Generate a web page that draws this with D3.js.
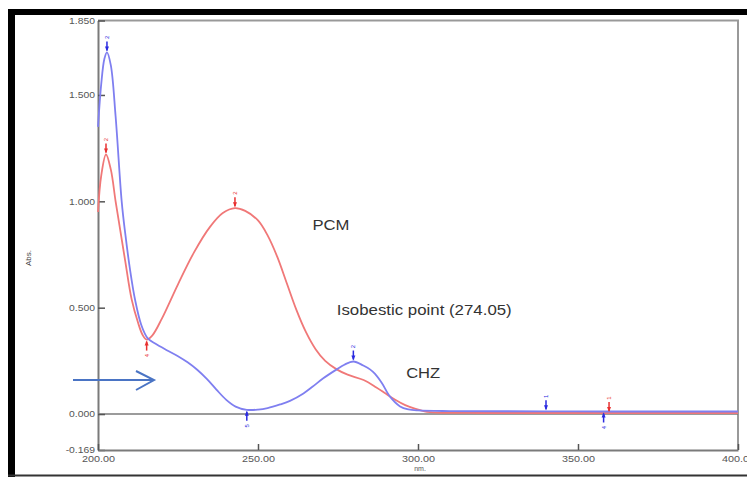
<!DOCTYPE html>
<html>
<head>
<meta charset="utf-8">
<script src="https://cdn.jsdelivr.net/npm/d3@7"></script>
<style>
  body { margin: 0; background: #fff; }
  svg { display: block; font-family: "Liberation Sans", Arial, sans-serif; }
</style>
</head>
<body>
<svg width="747" height="477"></svg>
<script>
// wavelength (nm) / absorbance
const chzWl  = [200, 201, 202, 202.8, 204, 205.5, 207.4, 208.5, 210, 211.6, 213.5, 215.5, 218, 221.5, 225, 228, 231, 234, 237, 240, 243, 246.5, 250, 253, 256.9, 260, 264.2, 267, 270.4, 274.6, 277, 279.8, 282.9, 285, 286.5, 288.7, 291.2, 294.4, 297, 300, 310, 340, 360, 400]
const chzAbs = [1.35, 1.55, 1.67, 1.70, 1.64, 1.40, 1.00, 0.85, 0.68, 0.536, 0.42, 0.357, 0.33, 0.30, 0.272, 0.243, 0.208, 0.165, 0.115, 0.068, 0.035, 0.02, 0.021, 0.028, 0.045, 0.062, 0.097, 0.128, 0.168, 0.21, 0.232, 0.247, 0.228, 0.21, 0.19, 0.146, 0.083, 0.036, 0.022, 0.017, 0.014, 0.013, 0.012, 0.012]

const pcmWl  = [200, 201, 202.5, 204, 205.5, 207, 208.5, 210.5, 212.5, 214, 215.2, 217, 220, 225, 230, 235, 239, 242.8, 246, 250, 253, 256, 259, 262, 265, 268, 271, 274.6, 278, 283, 287, 290, 293, 296, 299, 302, 306, 320, 360, 400]
const pcmAbs = [0.95, 1.12, 1.22, 1.15, 1.0, 0.86, 0.72, 0.54, 0.43, 0.37, 0.35, 0.37, 0.45, 0.61, 0.76, 0.88, 0.945, 0.968, 0.955, 0.91, 0.84, 0.74, 0.615, 0.49, 0.385, 0.305, 0.25, 0.21, 0.185, 0.16, 0.125, 0.095, 0.066, 0.042, 0.025, 0.013, 0.007, 0.005, 0.005, 0.005]

// peak pick markers: [wavelength, abs, direction, label]
const chzMarks = [[202.8, 1.70, "up", "2"], [246.5, 0.02, "down", "5"], [279.8, 0.247, "up", "2"], [340, 0.013, "up", "1"], [358, 0.012, "down", "4"]]
const pcmMarks = [[202.5, 1.22, "up", "2"], [215.2, 0.35, "down", "4"], [242.8, 0.968, "up", "2"], [359.7, 0.005, "up", "1"]]

const xTicks = [200, 250, 300, 350, 400]
const yTicks = [-0.169, 0, 0.5, 1.0, 1.5, 1.85]

// text, wavelength, abs, width on the page
const labels = [
  ["PCM", 267, 0.866, 37],
  ["Isobestic point (274.05)", 274.6, 0.467, 175],
  ["CHZ", 296.3, 0.171, 34]
]

const svg = d3.select("svg")

// scanned page frame
svg.append("rect").attr("x", 8).attr("y", 9).attr("width", 739).attr("height", 6).attr("fill", "#000")
svg.append("rect").attr("x", 8).attr("y", 9).attr("width", 7).attr("height", 468).attr("fill", "#000")
svg.append("line").attr("x1", 8).attr("x2", 747).attr("y1", 475.5).attr("y2", 475.5).attr("stroke", "#333").attr("stroke-width", 2)

const x = d3.scaleLinear().domain([200, 400]).range([98, 738])
const y = d3.scaleLinear().domain([-0.169, 1.85]).range([450, 20.5])

const grey = "#7a7a7a"

// the scan is a bit stretched sideways
function stretch(sel, k) {
  sel.each(function() {
    let w = this.getComputedTextLength()
    d3.select(this).attr("textLength", w * k).attr("lengthAdjust", "spacingAndGlyphs")
  })
}

// box
svg.append("path")
  .attr("d", `M${x(200)},${y(1.85)}H${x(400)}V${y(-0.169)}`)
  .attr("fill", "none").attr("stroke", "#999").attr("stroke-width", 2)

// zero line
svg.append("line")
  .attr("x1", x(200)).attr("x2", x(400)).attr("y1", y(0)).attr("y2", y(0))
  .attr("stroke", grey).attr("stroke-width", 1.5)

let yAxis = svg.append("g")
  .attr("transform", `translate(${x(200)},0)`)
  .call(d3.axisLeft(y).tickValues(yTicks).tickFormat(d => d.toFixed(3)).tickSizeInner(-7).tickSizeOuter(0).tickPadding(3))
yAxis.select(".domain").attr("stroke", grey).attr("stroke-width", 2)
yAxis.selectAll(".tick line").attr("stroke", "#555").attr("stroke-width", 1.5)
yAxis.selectAll("text").attr("fill", "#555").attr("font-size", 9).call(stretch, 1.15)

let xAxis = svg.append("g")
  .attr("transform", `translate(0,${y(-0.169)})`)
  .call(d3.axisBottom(x).tickValues(xTicks).tickFormat(d => d.toFixed(2)).tickSizeInner(-6).tickSizeOuter(0).tickPadding(6))
xAxis.select(".domain").attr("stroke", grey).attr("stroke-width", 2)
xAxis.selectAll(".tick line").attr("stroke", "#555").attr("stroke-width", 1.5)
xAxis.selectAll("text").attr("fill", "#555").attr("font-size", 9).call(stretch, 1.2)

svg.append("text").attr("x", x(300) + 2).attr("y", 471).attr("text-anchor", "middle")
  .attr("font-size", 7).attr("fill", "#555").text("nm.")
svg.append("text").attr("transform", "translate(31,258) rotate(-90)").attr("text-anchor", "middle")
  .attr("font-size", 8).attr("fill", "#444").text("Abs.")

const line = d3.line().x(d => x(d[0])).y(d => y(d[1])).curve(d3.curveCatmullRom.alpha(0.5))

svg.append("path").datum(d3.zip(pcmWl, pcmAbs))
  .attr("d", line).attr("fill", "none").attr("stroke", "#f07878").attr("stroke-width", 1.8)
svg.append("path").datum(d3.zip(chzWl, chzAbs))
  .attr("d", line).attr("fill", "none").attr("stroke", "#7f7ff0").attr("stroke-width", 1.8)

function drawMarks(marks, color) {
  let g = svg.append("g").selectAll("g").data(marks).enter().append("g")
    .attr("transform", d => `translate(${x(d[0])},${y(d[1])})`)
  g.append("line")
    .attr("y1", d => d[2] === "up" ? -2 : 2)
    .attr("y2", d => d[2] === "up" ? -11 : 11)
    .attr("stroke", color).attr("stroke-width", 1.5)
  g.append("path")
    .attr("d", d => d[2] === "up" ? "M-2,-6L0,-1L2,-6Z" : "M-2,6L0,1L2,6Z")
    .attr("fill", color)
  g.append("text")
    .attr("transform", d => `translate(0,${d[2] === "up" ? -15 : 16}) rotate(-90)`)
    .attr("text-anchor", "middle").attr("dy", "0.35em")
    .attr("font-size", 6).attr("fill", color)
    .text(d => d[3])
}
drawMarks(pcmMarks, "#e83030")
drawMarks(chzMarks, "#2a2ae0")

svg.append("g").selectAll("text").data(labels).enter().append("text")
  .attr("x", d => x(d[1])).attr("y", d => y(d[2]))
  .attr("font-size", 14).attr("fill", "#333")
  .attr("textLength", d => d[3]).attr("lengthAdjust", "spacingAndGlyphs")
  .text(d => d[0])

// arrow pointing at the CHZ shoulder
svg.append("path")
  .attr("d", "M73,380H153M136,371L154,380L136,390")
  .attr("fill", "none").attr("stroke", "#4a74c4").attr("stroke-width", 2)
</script>
</body>
</html>
